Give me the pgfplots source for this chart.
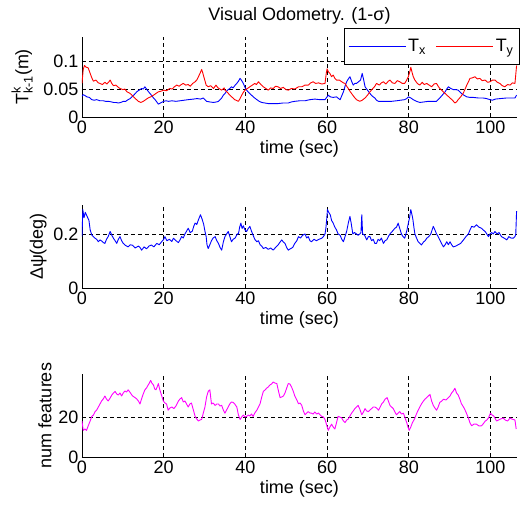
\documentclass[border=0pt]{standalone}
\usepackage{fontspec}
\setmainfont{Liberation Sans}
\usepackage{amsmath}
\usepackage{pgfplots}
\pgfplotsset{compat=1.18}
\pgfplotsset{
 base/.style={
   scale only axis, width=435pt, height=83pt,
   xmin=0, xmax=106.5, ymin=0,
   axis x line*=bottom, axis y line*=left,
   axis line style={black, line width=0.9pt, -},
   xtick={0,20,40,60,80,100},
   grid=major, major grid style={black, dash pattern=on 4pt off 3pt, line width=0.7pt},
   major tick length=0pt,
   tick label style={font=\fontsize{18}{21}\selectfont},
   label style={font=\fontsize{18}{21}\selectfont},
   /pgf/number format/assume math mode=true,
   xlabel={time (sec)},
   every axis plot/.append style={line width=0.9pt, line join=round},
 }
}
\begin{document}
\begin{tikzpicture}
% ---------------- plot 1 ----------------
\begin{axis}[base, at={(82pt,392pt)}, anchor=south west, height=80pt,
  ymax=0.143, ytick={0,0.05,0.1}, yticklabels={0,0.05,0.1},
  ylabel={$\text{T}^{\text{k}}_{\text{k-1}}$(m)},
  ylabel style={yshift=4pt},
  title={Visual Odometry. (1-σ)},
  title style={font=\fontsize{18}{21}\selectfont, yshift=3pt},
  legend columns=2,
  legend style={at={(1,1)}, anchor=north east, xshift=3pt, yshift=9pt,
    line width=0.9pt, fill=white, font=\fontsize{18}{21}\selectfont,
    inner xsep=4pt, inner ysep=9pt,
    /tikz/every even column/.append style={column sep=8pt}},
  legend image code/.code={\draw[#1, line width=0.9pt] (0pt,0pt) -- (57pt,0pt);},
]
\addplot[blue, no markers] coordinates {
(0,0.037)(0.3,0.040)(0.8,0.038)(1.2,0.036)(1.8,0.035)(2.4,0.031)(3.0,0.030)(3.6,0.031)(4.4,0.029)(5.2,0.029)(5.8,0.028)(6.5,0.028)(7.2,0.027)(7.7,0.026)(8.3,0.026)(8.9,0.025)(9.5,0.026)(10.1,0.028)(10.7,0.028)(11.3,0.031)(11.8,0.033)(12.2,0.036)(12.8,0.040)(13.4,0.045)(14.0,0.048)(14.6,0.051)(15.0,0.050)(15.4,0.054)(15.8,0.050)(16.3,0.045)(17.0,0.039)(17.5,0.034)(17.9,0.031)(18.3,0.027)(18.7,0.023)(19.2,0.025)(20.0,0.028)(20.6,0.029)(21.2,0.028)(22.0,0.029)(23.0,0.028)(24.0,0.029)(25.0,0.030)(26.0,0.031)(27.3,0.032)(28.2,0.033)(29.0,0.032)(29.7,0.034)(30.1,0.031)(30.5,0.028)(31.2,0.027)(32.2,0.026)(33.0,0.027)(33.4,0.028)(33.8,0.031)(34.2,0.034)(34.6,0.039)(35.0,0.042)(35.4,0.046)(35.8,0.049)(36.2,0.051)(36.6,0.054)(37.0,0.052)(37.5,0.057)(37.9,0.060)(38.3,0.064)(38.7,0.069)(39.1,0.065)(39.5,0.060)(39.9,0.053)(40.3,0.048)(40.9,0.043)(41.5,0.039)(42.1,0.035)(42.8,0.031)(43.4,0.028)(44.0,0.026)(44.8,0.025)(45.6,0.024)(46.8,0.024)(48.0,0.024)(49.2,0.025)(50.5,0.025)(51.3,0.027)(52.1,0.028)(53.3,0.029)(54.6,0.029)(55.8,0.031)(57.0,0.032)(58.2,0.031)(59.5,0.031)(59.9,0.035)(60.3,0.039)(60.8,0.036)(61.5,0.035)(62.3,0.036)(62.8,0.033)(63.2,0.031)(63.6,0.038)(64.0,0.045)(64.4,0.055)(64.8,0.063)(65.2,0.068)(65.6,0.072)(66.0,0.064)(66.4,0.057)(66.8,0.060)(67.2,0.060)(67.7,0.063)(68.2,0.066)(68.6,0.078)(69.0,0.065)(69.3,0.054)(69.9,0.048)(70.5,0.042)(71.1,0.037)(71.7,0.034)(72.1,0.030)(72.6,0.028)(73.5,0.028)(74.6,0.028)(75.8,0.028)(77.0,0.029)(78.0,0.030)(79.0,0.031)(79.5,0.033)(79.9,0.036)(80.5,0.034)(81.1,0.031)(81.9,0.028)(82.7,0.026)(83.8,0.027)(84.8,0.028)(85.8,0.028)(86.8,0.028)(87.2,0.031)(87.6,0.034)(88.2,0.039)(88.9,0.045)(89.3,0.050)(89.7,0.054)(90.3,0.051)(90.9,0.049)(91.5,0.049)(92.1,0.048)(92.5,0.045)(92.9,0.042)(93.5,0.039)(94.2,0.036)(95.0,0.035)(95.8,0.035)(97.0,0.034)(98.2,0.034)(99.0,0.033)(99.9,0.031)(100.5,0.030)(101.2,0.032)(102.5,0.033)(104.0,0.034)(105.0,0.034)(106.0,0.034)(106.4,0.039)
};
\addlegendentry{T\textsubscript{x}}
\addplot[red, no markers] coordinates {
(0,0.060)(0.3,0.085)(0.6,0.092)(1.0,0.089)(1.5,0.088)(2.0,0.078)(2.4,0.070)(2.8,0.064)(3.4,0.066)(4.0,0.061)(4.4,0.060)(5.0,0.058)(5.6,0.062)(6.1,0.059)(6.6,0.063)(6.9,0.066)(7.3,0.060)(7.7,0.056)(8.3,0.057)(8.9,0.053)(9.3,0.051)(10.0,0.049)(10.5,0.050)(11.0,0.045)(11.6,0.043)(12.1,0.040)(12.6,0.036)(13.2,0.032)(13.8,0.028)(14.4,0.026)(15.0,0.028)(15.6,0.031)(16.2,0.034)(16.8,0.036)(17.5,0.039)(18.1,0.042)(18.7,0.045)(19.3,0.046)(20.0,0.048)(20.7,0.047)(21.5,0.051)(22.1,0.050)(22.6,0.054)(23.2,0.057)(23.8,0.055)(24.3,0.058)(24.8,0.060)(25.4,0.057)(26.0,0.058)(26.5,0.055)(27.1,0.060)(27.7,0.063)(28.1,0.066)(28.5,0.072)(28.9,0.078)(29.3,0.085)(29.6,0.078)(29.9,0.070)(30.4,0.057)(30.9,0.054)(31.5,0.056)(32.2,0.051)(32.8,0.057)(33.3,0.052)(34.2,0.048)(34.8,0.052)(35.0,0.048)(35.6,0.044)(36.2,0.039)(36.8,0.035)(37.4,0.031)(38.3,0.028)(38.7,0.033)(39.1,0.039)(39.5,0.044)(39.9,0.048)(40.5,0.051)(41.1,0.054)(41.7,0.057)(42.3,0.060)(42.7,0.058)(43.2,0.063)(43.8,0.058)(44.4,0.054)(45.0,0.051)(45.6,0.048)(46.2,0.052)(46.8,0.051)(47.4,0.055)(48.0,0.054)(48.6,0.051)(49.3,0.053)(49.9,0.049)(50.5,0.048)(51.3,0.051)(52.1,0.050)(53.0,0.054)(53.8,0.054)(54.6,0.057)(55.4,0.057)(56.0,0.061)(56.6,0.063)(57.2,0.060)(57.9,0.061)(58.7,0.059)(59.5,0.060)(59.8,0.078)(60.0,0.086)(60.4,0.080)(60.7,0.078)(61.1,0.072)(61.5,0.075)(61.9,0.069)(62.3,0.066)(63.0,0.066)(63.6,0.063)(64.0,0.061)(64.4,0.060)(64.8,0.055)(65.2,0.051)(65.6,0.046)(66.0,0.042)(66.6,0.036)(67.2,0.031)(68.0,0.028)(68.6,0.030)(69.3,0.034)(69.9,0.039)(70.5,0.045)(71.1,0.050)(71.7,0.055)(72.1,0.060)(72.8,0.057)(73.3,0.061)(73.8,0.063)(74.4,0.059)(75.0,0.064)(75.4,0.066)(76.0,0.061)(76.6,0.060)(77.2,0.065)(77.8,0.063)(78.4,0.060)(79.0,0.060)(79.5,0.066)(79.9,0.072)(80.3,0.082)(80.5,0.089)(80.8,0.080)(81.1,0.072)(81.5,0.066)(82.1,0.060)(82.7,0.057)(83.3,0.062)(83.8,0.058)(84.4,0.060)(85.0,0.057)(85.6,0.054)(86.2,0.059)(86.8,0.060)(87.2,0.055)(87.6,0.051)(88.2,0.047)(88.9,0.042)(89.5,0.038)(90.1,0.034)(90.7,0.030)(91.3,0.025)(91.7,0.027)(92.1,0.031)(92.7,0.036)(93.3,0.042)(93.8,0.050)(94.2,0.057)(94.6,0.063)(95.0,0.069)(95.6,0.070)(96.2,0.072)(96.8,0.068)(97.4,0.069)(98.0,0.065)(98.7,0.066)(99.3,0.062)(99.9,0.063)(100.5,0.066)(101.1,0.066)(101.7,0.062)(102.3,0.060)(102.9,0.056)(103.5,0.054)(104.2,0.058)(104.8,0.057)(105.4,0.061)(106.0,0.060)(106.4,0.092)
};
\addlegendentry{T\textsubscript{y}}
\end{axis}
% ---------------- plot 2 ----------------
\begin{axis}[base, at={(82pt,221pt)}, anchor=south west,
  ymax=0.307, ytick={0,0.2}, yticklabels={0,0.2},
  ylabel={Δψ(deg)}]
\addplot[blue, no markers] coordinates {
(0,0.19)(0.2,0.29)(0.5,0.26)(0.8,0.28)(1.1,0.27)(1.4,0.26)(1.7,0.25)(2.0,0.215)(2.4,0.196)(2.8,0.19)(3.2,0.184)(3.6,0.18)(4.0,0.171)(4.4,0.178)(4.8,0.174)(5.2,0.168)(5.6,0.165)(6.0,0.18)(6.4,0.19)(6.9,0.209)(7.3,0.195)(7.7,0.184)(8.1,0.175)(8.5,0.165)(8.9,0.18)(9.3,0.19)(9.7,0.175)(10.1,0.165)(10.6,0.158)(11.3,0.152)(11.8,0.16)(12.4,0.158)(13.0,0.148)(13.8,0.155)(14.2,0.15)(14.6,0.14)(15.2,0.152)(15.8,0.145)(16.4,0.155)(17.0,0.159)(17.6,0.152)(18.3,0.165)(18.9,0.16)(19.5,0.171)(20.0,0.18)(20.3,0.19)(20.8,0.175)(21.4,0.18)(22.0,0.172)(22.4,0.184)(23.0,0.175)(23.6,0.168)(24.0,0.178)(24.4,0.19)(24.8,0.185)(25.2,0.2)(25.6,0.21)(26.0,0.221)(26.5,0.205)(27.0,0.21)(27.4,0.23)(27.7,0.24)(28.1,0.235)(28.5,0.252)(29.0,0.271)(29.4,0.255)(29.8,0.235)(30.1,0.21)(30.4,0.19)(30.6,0.16)(30.9,0.146)(31.3,0.16)(31.7,0.175)(32.1,0.185)(32.6,0.19)(33.0,0.175)(33.4,0.165)(33.8,0.15)(34.2,0.14)(34.6,0.17)(35.0,0.19)(35.4,0.2)(35.8,0.209)(36.2,0.19)(36.6,0.171)(37.0,0.18)(37.5,0.185)(38.0,0.2)(38.3,0.2)(38.6,0.225)(38.9,0.24)(39.2,0.22)(39.5,0.23)(39.9,0.215)(40.3,0.209)(40.7,0.22)(41.1,0.228)(41.5,0.21)(41.9,0.195)(42.3,0.18)(42.8,0.171)(43.2,0.175)(43.6,0.16)(44.0,0.155)(44.4,0.146)(45.0,0.15)(45.6,0.143)(46.2,0.148)(46.8,0.14)(47.4,0.15)(48.0,0.159)(48.4,0.168)(48.9,0.178)(49.3,0.17)(49.7,0.165)(50.1,0.15)(50.5,0.14)(51.0,0.145)(51.6,0.15)(52.1,0.165)(52.6,0.175)(53.0,0.19)(53.5,0.185)(54.0,0.195)(54.6,0.2)(55.0,0.185)(55.4,0.19)(55.8,0.175)(56.2,0.171)(56.8,0.18)(57.4,0.175)(58.0,0.18)(58.7,0.184)(59.1,0.19)(59.5,0.2)(59.7,0.22)(59.9,0.252)(60.1,0.29)(60.4,0.28)(60.8,0.27)(61.1,0.25)(61.5,0.24)(61.9,0.225)(62.3,0.215)(62.7,0.2)(63.2,0.195)(63.6,0.18)(64.0,0.171)(64.4,0.19)(64.8,0.21)(65.2,0.24)(65.6,0.265)(65.9,0.24)(66.3,0.2)(66.7,0.205)(67.2,0.2)(67.6,0.195)(68.0,0.2)(68.3,0.205)(68.5,0.271)(68.7,0.2)(69.2,0.195)(69.7,0.178)(70.1,0.19)(70.5,0.19)(70.9,0.175)(71.3,0.18)(71.7,0.165)(72.1,0.165)(72.5,0.18)(72.9,0.175)(73.3,0.185)(73.8,0.165)(74.2,0.175)(74.6,0.178)(75.0,0.19)(75.4,0.2)(76.0,0.21)(76.6,0.221)(77.0,0.225)(77.4,0.24)(77.8,0.22)(78.2,0.2)(78.6,0.19)(79.0,0.184)(79.5,0.21)(79.9,0.24)(80.2,0.26)(80.5,0.29)(80.8,0.27)(81.0,0.255)(81.3,0.22)(81.5,0.2)(81.9,0.185)(82.3,0.171)(82.7,0.165)(83.1,0.159)(83.6,0.17)(84.0,0.175)(84.4,0.184)(84.9,0.19)(85.4,0.2)(86.0,0.228)(86.4,0.215)(86.8,0.2)(87.2,0.19)(87.6,0.178)(88.0,0.165)(88.5,0.152)(88.9,0.16)(89.3,0.171)(89.7,0.16)(90.1,0.171)(90.5,0.16)(90.9,0.152)(91.5,0.155)(92.1,0.16)(92.7,0.165)(93.4,0.178)(94.0,0.19)(94.6,0.2)(95.0,0.215)(95.4,0.228)(96.0,0.225)(96.6,0.234)(97.2,0.225)(97.8,0.221)(98.2,0.215)(98.7,0.209)(99.1,0.2)(99.5,0.19)(99.9,0.2)(100.3,0.205)(100.7,0.2)(101.1,0.209)(101.6,0.2)(102.1,0.205)(102.7,0.19)(103.3,0.185)(104.0,0.178)(104.5,0.19)(105.0,0.185)(105.6,0.184)(106.0,0.19)(106.2,0.2)(106.4,0.284)
};
\end{axis}
% ---------------- plot 3 ----------------
\begin{axis}[base, at={(82pt,52pt)}, anchor=south west,
  ymax=41.5, ytick={0,20}, yticklabels={0,20},
  ylabel={num features}]
\addplot[color={rgb,1:red,1;green,0;blue,1}, no markers] coordinates {
(0,18)(0.3,13.3)(0.7,14)(1.1,13.3)(1.6,16)(2.0,18)(2.4,20.3)(2.8,21)(3.2,22.7)(3.6,23.5)(4.0,25)(4.4,26.5)(4.8,28)(5.2,29)(5.6,30.5)(6.0,29)(6.4,28)(6.9,29.5)(7.3,31)(7.7,32)(8.1,32.8)(8.5,31.5)(8.9,31)(9.3,32)(9.7,30.5)(10.1,32)(10.5,33)(10.9,32.5)(11.3,33.6)(11.7,32.5)(12.2,31)(12.6,30.2)(13.0,29.7)(13.4,29)(13.8,28)(14.2,26.5)(14.5,28.5)(14.9,31)(15.4,33.6)(15.8,34.5)(16.2,36)(16.5,37)(16.8,38.3)(17.1,37)(17.5,36)(17.8,34)(18.1,33.6)(18.4,35)(18.7,36.7)(19.0,34)(19.3,32)(19.6,30)(19.9,28)(20.3,27)(20.7,26.5)(21.1,23.4)(21.5,24.5)(22.0,25)(22.5,24.2)(23.0,25.5)(23.6,28)(24.0,29)(24.4,29.7)(24.8,27.5)(25.2,28)(25.6,26.5)(26.0,25)(26.4,26.5)(26.8,27)(27.2,24)(27.7,20.3)(28.1,19)(28.5,18)(28.9,18.5)(29.3,18.8)(29.7,22)(30.1,25)(30.5,30)(30.9,32.8)(31.3,33.6)(31.7,26.5)(32.1,27)(32.6,25.8)(33.0,26.5)(33.4,26.5)(33.8,25.5)(34.2,25.8)(34.6,23.5)(35.0,21.9)(35.4,23.5)(35.8,25)(36.2,26.6)(36.6,27.5)(37.0,27.3)(37.4,26.5)(37.9,25)(38.3,21)(38.7,18.75)(39.1,20)(39.5,21)(39.9,20)(40.3,20.3)(40.7,21)(41.1,20.5)(41.5,21.5)(41.9,20.3)(42.3,22)(42.8,23.4)(43.2,25)(43.6,26.6)(44.0,30)(44.4,32.8)(44.8,33.5)(45.2,34.4)(45.6,35)(46.0,36)(46.4,36.5)(46.8,37.5)(47.2,37)(47.7,36.7)(48.1,33)(48.5,29.7)(48.9,30)(49.3,30.5)(49.7,32)(50.1,34.4)(50.5,36.7)(50.9,36.5)(51.3,35)(51.7,33)(52.1,30.5)(52.6,28.5)(53.0,26.6)(53.4,27)(53.8,25.8)(54.2,23)(54.6,21.1)(55.0,22)(55.4,22.7)(55.8,22)(56.2,21.9)(56.6,21.5)(57.0,22.5)(57.5,21.5)(57.9,22)(58.3,21)(58.7,20.3)(59.1,20)(59.5,18.75)(59.9,16)(60.3,13.3)(60.7,15)(61.1,16.4)(61.5,15)(61.9,14)(62.3,17)(62.7,20.3)(63.1,20)(63.6,19.5)(64.0,18)(64.4,17.2)(64.8,18.5)(65.2,19)(65.6,20.5)(66.0,21.9)(66.4,23)(66.8,24.2)(67.2,25)(67.6,25.8)(68.0,24)(68.5,21.1)(68.9,22.5)(69.3,24.2)(69.7,23)(70.1,22.7)(70.5,23.5)(70.9,24.2)(71.3,25)(71.7,25)(72.1,24.5)(72.6,23.4)(73.0,25)(73.4,26.6)(73.8,27.5)(74.2,28.9)(74.7,29.7)(75.0,28)(75.4,25.8)(75.8,25)(76.2,24.2)(76.6,22.5)(77.0,21.1)(77.4,22)(77.8,22.7)(78.2,21.5)(78.7,21.9)(79.1,19.5)(79.5,17.2)(79.8,15)(80.1,13.3)(80.5,15)(80.9,17.2)(81.4,19)(81.8,21.1)(82.2,23)(82.7,25)(83.1,26.5)(83.6,28)(84.0,29)(84.4,29.7)(84.8,30.5)(85.2,31.3)(85.6,28)(86.0,25.8)(86.4,24.5)(86.8,23.4)(87.2,25)(87.6,27.3)(88.1,28)(88.5,28.9)(89.1,28.5)(89.7,29.7)(90.1,30.5)(90.5,32)(90.9,33)(91.3,34.4)(91.7,32)(92.1,31)(92.5,29)(92.9,26.6)(93.4,25)(93.8,23.4)(94.2,21.5)(94.6,19.5)(95.0,17)(95.4,15.6)(96.0,16.5)(96.6,16.4)(97.2,15.5)(97.8,15.6)(98.2,16.5)(98.7,17.9)(99.1,18.5)(99.5,19.5)(100.0,21.9)(100.4,21)(100.8,20.5)(101.5,18)(102.0,18.5)(102.5,19)(103.1,19.5)(103.6,18.5)(104.2,18)(104.8,19.5)(105.2,19)(105.6,18.75)(106.0,18.5)(106.3,14)
};
\end{axis}
\pgfresetboundingbox
\path (0pt,0pt) rectangle (523pt,509pt);
\end{tikzpicture}
\end{document}
